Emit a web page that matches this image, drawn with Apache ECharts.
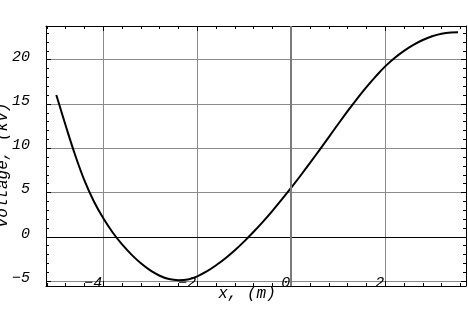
<!DOCTYPE html>
<html>
<head>
<meta charset="utf-8">
<script src="https://cdn.jsdelivr.net/npm/echarts@6/dist/echarts.min.js"></script>
<style>html,body{margin:0;padding:0;background:#fff;}#c{width:468px;height:318px;}</style>
</head>
<body>
<div id="c"></div>
<script>
const xValues = [-5.0, -4.8, -4.6, -4.4, -4.2, -4.0, -3.8, -3.6, -3.4, -3.2, -3.0, -2.8, -2.6, -2.4, -2.2, -2.0, -1.8, -1.6, -1.4, -1.2, -1.0, -0.8, -0.6, -0.4, -0.2, 0.0, 0.2, 0.4, 0.6, 0.8, 1.0, 1.2, 1.4, 1.6, 1.8, 2.0, 2.2, 2.4, 2.6, 2.8, 3.0, 3.2, 3.4, 3.55];
const voltage = [16.0, 12.53, 9.23, 6.33, 3.98, 2.08, 0.48, -0.87, -2.02, -3.0, -3.8, -4.4, -4.78, -4.9, -4.82, -4.47, -3.92, -3.22, -2.42, -1.52, -0.52, 0.56, 1.71, 2.93, 4.21, 5.54, 6.92, 8.34, 9.79, 11.26, 12.73, 14.18, 15.58, 16.9, 18.12, 19.24, 20.19, 20.99, 21.67, 22.22, 22.64, 22.92, 23.07, 23.1];
const xRange = [-5.22, 3.72];
const yRange = [-5.56, 23.8];
const xTitle = 'x, (m)';
const yTitle = 'voltage, (kV)';

const font = 'Liberation Mono';
const minus = v => String(v).replace('-', '\u2212');
const chart = echarts.init(document.getElementById('c'), null, {renderer: 'canvas'});
const frameLine = {show: true, onZero: false, lineStyle: {color: '#000', width: 1}};
const tickIn = {show: true, inside: true, length: 5, lineStyle: {color: '#000'}};
const minorIn = {show: true, splitNumber: 5, length: 3, lineStyle: {color: '#000'}};
chart.setOption({
  animation: false,
  backgroundColor: '#fff',
  grid: {left: 46, top: 26, right: 2, bottom: 32, containLabel: false, outerBoundsMode: 'none'},
  xAxis: [{
    type: 'value', min: xRange[0], max: xRange[1], splitNumber: 5, position: 'bottom',
    axisLine: frameLine, axisTick: tickIn, minorTick: minorIn,
    splitLine: {show: true, lineStyle: {color: '#8a8a8a', width: 1}},
    axisLabel: {inside: true, align: 'right', verticalAlign: 'bottom', margin: -5, padding: [0, 1, 0, 0],
      showMinLabel: false, showMaxLabel: false, formatter: minus,
      fontFamily: font, fontStyle: 'italic', fontSize: 15, color: '#000'},
    name: xTitle, nameLocation: 'middle', nameGap: 0, nameMoveOverlap: false,
    nameTextStyle: {fontFamily: font, fontStyle: 'italic', fontSize: 16, color: '#000', padding: [0, 18, 0, 0]}
  }, {
    type: 'value', min: xRange[0], max: xRange[1], splitNumber: 5, position: 'top',
    axisLine: frameLine, axisTick: tickIn, minorTick: minorIn,
    splitLine: {show: false}, axisLabel: {show: false}
  }],
  yAxis: [{
    type: 'value', min: yRange[0], max: yRange[1], splitNumber: 6, position: 'left',
    axisLine: frameLine, axisTick: tickIn, minorTick: minorIn,
    splitLine: {show: true, lineStyle: {color: '#8a8a8a', width: 1}},
    axisLabel: {margin: 16, verticalAlign: 'bottom', showMinLabel: false, showMaxLabel: false, formatter: minus,
      fontFamily: font, fontStyle: 'italic', fontSize: 15, color: '#000', lineHeight: 6},
    name: yTitle, nameLocation: 'middle', nameRotate: 90, nameGap: 35, nameMoveOverlap: false,
    nameTextStyle: {fontFamily: font, fontStyle: 'italic', fontSize: 16, color: '#000', padding: [0, 18, 0, 0]}
  }, {
    type: 'value', min: yRange[0], max: yRange[1], splitNumber: 6, position: 'right',
    axisLine: frameLine, axisTick: tickIn, minorTick: minorIn,
    splitLine: {show: false}, axisLabel: {show: false}
  }],
  series: [{
    type: 'line', xAxisIndex: 0, yAxisIndex: 0,
    data: xValues.map((x, i) => [x, voltage[i]]),
    showSymbol: false, smooth: 0.4,
    lineStyle: {color: '#000', width: 2},
    markLine: {silent: true, symbol: 'none', label: {show: false},
      data: [
        {yAxis: 0, lineStyle: {color: '#000', width: 1, type: 'solid'}},
        {xAxis: 0, lineStyle: {color: '#7a7a7a', width: 2, type: 'solid'}}
      ]}
  }]
});
</script>
</body>
</html>
